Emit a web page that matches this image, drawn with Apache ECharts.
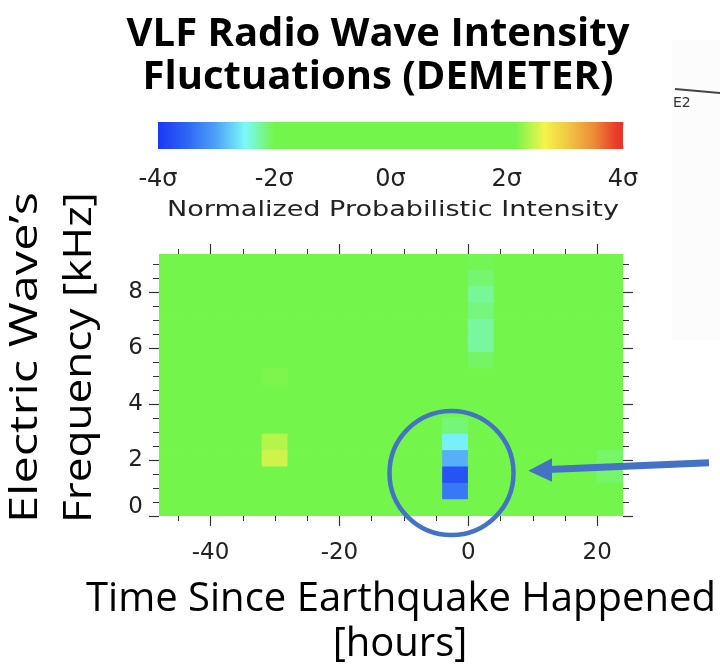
<!DOCTYPE html>
<html>
<head>
<meta charset="utf-8">
<script src="https://cdn.jsdelivr.net/npm/echarts@6/dist/echarts.min.js"></script>
<style>html,body{margin:0;padding:0;background:#fff}#c{width:720px;height:668px}</style>
</head>
<body>
<div id="c"></div>
<script>
// ---- data ----
const TIME_BINS = [-48,-44,-40,-36,-32,-28,-24,-20,-16,-12,-8,-4,0,4,8,12,16,20]; // bin start (hours)
const FREQ_BINS = [0.000,0.586,1.172,1.758,2.344,2.930,3.516,4.102,4.688,5.273,5.859,6.445,7.031,7.617,8.203,8.789]; // bin start (kHz)
const TIME_STEP = 4, FREQ_STEP = 0.586;
const TIME_MIN = -48, TIME_MAX = 24;
const FREQ_MIN = 0, FREQ_MAX = 9.375;
// normalized intensity (sigma), rows from top frequency bin (8.79 kHz) down to 0 kHz
const SIGMA = [
  [0,0,0,0,0,0,0,0,0,0,0,0,-2.02,0,0,0,0,0],
  [0,0,0,0,0,0,0,0,0,0,0,0,-2.10,0,0,0,0,0],
  [0,0,0,0,0,0,0,0,0,0,0,0,-2.22,0,0,0,0,0],
  [0,0,0,0,0,0,0,0,0,0,0,0,-2.14,0,0,0,0,0],
  [0,0,0,0,0,0,0,0,0,0,0,0,-2.24,0,0,0,0,0],
  [0,0,0,0,0,0,0,0,0,0,0,0,-2.24,0,0,0,0,0],
  [0,0,0,0,0,0,0,0,0,0,0,0,-2.07,0,0,0,0,0],
  [0,0,0,0,2.19,0,0,0,0,0,0,0,0,0,0,0,0,0],
  [0,0,0,0,0,0,0,0,0,0,0,0,0,0,0,0,0,0],
  [0,0,0,0,0,0,0,0,0,0,0,0,0,0,0,0,0,0],
  [0,0,0,0,0,0,0,0,0,0,0,-2.12,0,0,0,0,0,0],
  [0,0,0,0,2.40,0,0,0,0,0,0,-2.55,0,0,0,0,0,0],
  [0,0,0,0,2.50,0,0,0,0,0,0,-2.92,0,0,0,0,0,-2.08],
  [0,0,0,0,0,0,0,0,0,0,0,-3.70,0,0,0,0,0,-2.08],
  [0,0,0,0,0,0,0,0,0,0,0,-3.35,0,0,0,0,0,0],
  [0,0,0,0,0,0,0,0,0,0,0,0,0,0,0,0,0,0]
];
const X_MAJOR = [-40,-20,0,20];
const X_MINOR = [-45,-35,-30,-25,-15,-10,-5,5,10,15];
const Y_MAJOR = [0,2,4,6,8];
const Y_MINOR = [0.5,1,1.5,2.5,3,3.5,4.5,5,5.5,6.5,7,7.5,8.5,9];
const CB_MIN = -4, CB_MAX = 4, CB_INTERVAL = 2;
// colormap (sigma -> colour)
const CMAP_STOPS = [
  [-4.0,'#1a37f2'],[-3.5,'#2e66f4'],[-3.0,'#4fa2f6'],[-2.5,'#7cf9f9'],[-2.0,'#74f54c'],
  [2.15,'#74f54c'],[2.65,'#f4f44c'],[3.1,'#f0c242'],[3.5,'#ec8c36'],[3.9,'#e9382a'],[4.0,'#e9382a']
];

// ---- helpers ----
function hex2rgb(h){return [parseInt(h.slice(1,3),16),parseInt(h.slice(3,5),16),parseInt(h.slice(5,7),16)];}
function cmap(v){
  for(let i=0;i<CMAP_STOPS.length-1;i++){
    const [a,ca]=CMAP_STOPS[i],[b,cb]=CMAP_STOPS[i+1];
    if(v>=a&&v<=b){const t=(v-a)/(b-a||1);const A=hex2rgb(ca),B=hex2rgb(cb);
      return 'rgb('+A.map((x,k)=>Math.round(x+(B[k]-x)*t)).join(',')+')';}
  }
  return v<CB_MIN?CMAP_STOPS[0][1]:CMAP_STOPS[CMAP_STOPS.length-1][1];
}
const VM_COLORS=[];for(let i=0;i<=160;i++){VM_COLORS.push(cmap(CB_MIN+i*(CB_MAX-CB_MIN)/160));}
const cellData=[];
SIGMA.forEach((row,r)=>row.forEach((v,c)=>cellData.push([TIME_BINS[c],FREQ_BINS[FREQ_BINS.length-1-r],v])));

const FONT_TICK='DejaVu Sans';
const TICK_COLOR='#333';
function valAxis(extra){return Object.assign({type:'value',axisLine:{show:false,onZero:false},splitLine:{show:false},
  axisTick:{show:true,inside:false,length:10,lineStyle:{color:TICK_COLOR,width:1.2}},
  axisLabel:{show:false}},extra);}

const chart=echarts.init(document.getElementById('c'),null,{renderer:'canvas'});
chart.setOption({
  backgroundColor:'#fff',
  animation:false,
  title:{text:'VLF Radio Wave Intensity\nFluctuations (DEMETER)',left:378,top:13,padding:0,textAlign:'center',
    textStyle:{fontFamily:'Open Sans',fontWeight:'bold',fontSize:40,lineHeight:43,color:'#000'}},
  grid:[
    {left:159,top:254,width:464,height:262},
    {left:158,top:122,width:465,height:27}
  ],
  xAxis:[
    valAxis({gridIndex:0,position:'bottom',min:TIME_MIN,max:TIME_MAX,
      axisTick:{show:true,length:10,customValues:X_MAJOR,lineStyle:{color:TICK_COLOR,width:1.2}},
      axisLabel:{show:true,customValues:X_MAJOR,margin:26,fontFamily:FONT_TICK,fontSize:23,color:'#222'}}),
    valAxis({gridIndex:0,position:'bottom',min:TIME_MIN,max:TIME_MAX,
      axisTick:{show:true,length:5,customValues:X_MINOR,lineStyle:{color:TICK_COLOR,width:1}}}),
    valAxis({gridIndex:0,position:'top',min:TIME_MIN,max:TIME_MAX,
      axisTick:{show:true,length:10,customValues:X_MAJOR,lineStyle:{color:TICK_COLOR,width:1.2}}}),
    valAxis({gridIndex:0,position:'top',min:TIME_MIN,max:TIME_MAX,
      axisTick:{show:true,length:5,customValues:X_MINOR,lineStyle:{color:TICK_COLOR,width:1}}}),
    valAxis({gridIndex:1,position:'bottom',min:CB_MIN,max:CB_MAX,interval:CB_INTERVAL,
      axisTick:{show:true,inside:true,length:3,lineStyle:{color:'rgba(60,60,60,0.25)'}},
      minorTick:{show:true,splitNumber:4,length:3,lineStyle:{color:'rgba(60,60,60,0.25)'}},
      axisLabel:{show:true,margin:19,fontFamily:FONT_TICK,fontSize:24,color:'#222',formatter:v=>v+'σ'}}),
    valAxis({gridIndex:1,position:'top',min:CB_MIN,max:CB_MAX,interval:CB_INTERVAL,
      axisTick:{show:true,inside:true,length:3,lineStyle:{color:'rgba(60,60,60,0.25)'}},
      minorTick:{show:true,splitNumber:4,length:3,lineStyle:{color:'rgba(60,60,60,0.25)'}}})
  ],
  yAxis:[
    valAxis({gridIndex:0,position:'left',min:FREQ_MIN,max:FREQ_MAX,
      axisTick:{show:true,length:10,customValues:Y_MAJOR,lineStyle:{color:TICK_COLOR,width:1.2}},
      axisLabel:{show:true,customValues:Y_MAJOR,margin:16,fontFamily:FONT_TICK,fontSize:23,color:'#222',
        formatter:v=>v===0?'{z|0}':String(v),
        rich:{z:{fontFamily:FONT_TICK,fontSize:23,color:'#222',padding:[0,0,18,0]}}}}),
    valAxis({gridIndex:0,position:'left',min:FREQ_MIN,max:FREQ_MAX,
      axisTick:{show:true,length:6,customValues:Y_MINOR,lineStyle:{color:TICK_COLOR,width:1}}}),
    valAxis({gridIndex:0,position:'right',min:FREQ_MIN,max:FREQ_MAX,
      axisTick:{show:true,length:10,customValues:Y_MAJOR,lineStyle:{color:TICK_COLOR,width:1.2}}}),
    valAxis({gridIndex:0,position:'right',min:FREQ_MIN,max:FREQ_MAX,
      axisTick:{show:true,length:6,customValues:Y_MINOR,lineStyle:{color:TICK_COLOR,width:1}}}),
    {type:'value',gridIndex:1,min:0,max:1,show:false}
  ],
  visualMap:{type:'continuous',show:false,min:CB_MIN,max:CB_MAX,dimension:2,seriesIndex:0,
    inRange:{color:VM_COLORS}},
  series:[
    {type:'custom',xAxisIndex:0,yAxisIndex:0,data:cellData,clip:true,silent:true,
      renderItem:function(params,api){
        const p=api.coord([api.value(0),api.value(1)]);
        const s=api.size([TIME_STEP,FREQ_STEP]);
        return {type:'rect',shape:{x:p[0]-0.4,y:p[1]-s[1]-0.4,width:s[0]+0.8,height:s[1]+0.8},
          style:{fill:api.visual('color')}};
      }},
    {type:'custom',xAxisIndex:4,yAxisIndex:4,data:[[CB_MIN,CB_MAX]],silent:true,
      renderItem:function(params,api){
        const p0=api.coord([api.value(0),1]),p1=api.coord([api.value(1),0]);
        const stops=CMAP_STOPS.map(s=>({offset:(s[0]-CB_MIN)/(CB_MAX-CB_MIN),color:s[1]}));
        return {type:'rect',shape:{x:p0[0],y:p0[1],width:p1[0]-p0[0],height:p1[1]-p0[1]},
          style:{fill:new echarts.graphic.LinearGradient(0,0,1,0,stops)}};
      }}
  ],
  graphic:[
    {type:'rect',z:0,shape:{x:672,y:40,width:48,height:300},style:{fill:'#fcfcfc'}},
    {type:'line',z:50,shape:{x1:675,y1:89,x2:720,y2:93},style:{stroke:'#444',lineWidth:2}},
    {type:'text',z:50,x:673,y:103,style:{text:'E2',fontFamily:'DejaVu Sans',fontSize:14,fill:'#333',textVerticalAlign:'middle'}},
    {type:'text',z:50,x:393,y:210,scaleX:1.23,style:{text:'Normalized Probabilistic Intensity',fontFamily:'DejaVu Sans',fontSize:22,fill:'#222',textAlign:'center',textVerticalAlign:'middle'}},
    {type:'text',z:50,x:26,y:523,rotation:Math.PI/2,scaleX:1.25,style:{text:'Electric Wave’s',fontFamily:'Open Sans',fontSize:39,fill:'#000',textAlign:'left',textVerticalAlign:'middle'}},
    {type:'text',z:50,x:80,y:523,rotation:Math.PI/2,scaleX:1.13,style:{text:'Frequency [kHz]',fontFamily:'Open Sans',fontSize:39,fill:'#000',textAlign:'left',textVerticalAlign:'middle'}},
    {type:'text',z:50,x:401,y:600,style:{text:'Time Since Earthquake Happened',fontFamily:'Open Sans',fontSize:40,fill:'#000',textAlign:'center',textVerticalAlign:'middle'}},
    {type:'text',z:50,x:400,y:645,style:{text:'[hours]',fontFamily:'Open Sans',fontSize:40,fill:'#000',textAlign:'center',textVerticalAlign:'middle'}},
    {type:'circle',z:60,shape:{cx:451.5,cy:473,r:62},style:{fill:'none',stroke:'#4472c4',lineWidth:4.5}},
    {type:'line',z:60,shape:{x1:709,y1:462.8,x2:548,y2:469.4},style:{stroke:'#4472c4',lineWidth:7}},
    {type:'polygon',z:60,shape:{points:[[528.3,470.7],[552,458.3],[552,481.7]]},style:{fill:'#4472c4'}}
  ]
});
</script>
</body>
</html>
